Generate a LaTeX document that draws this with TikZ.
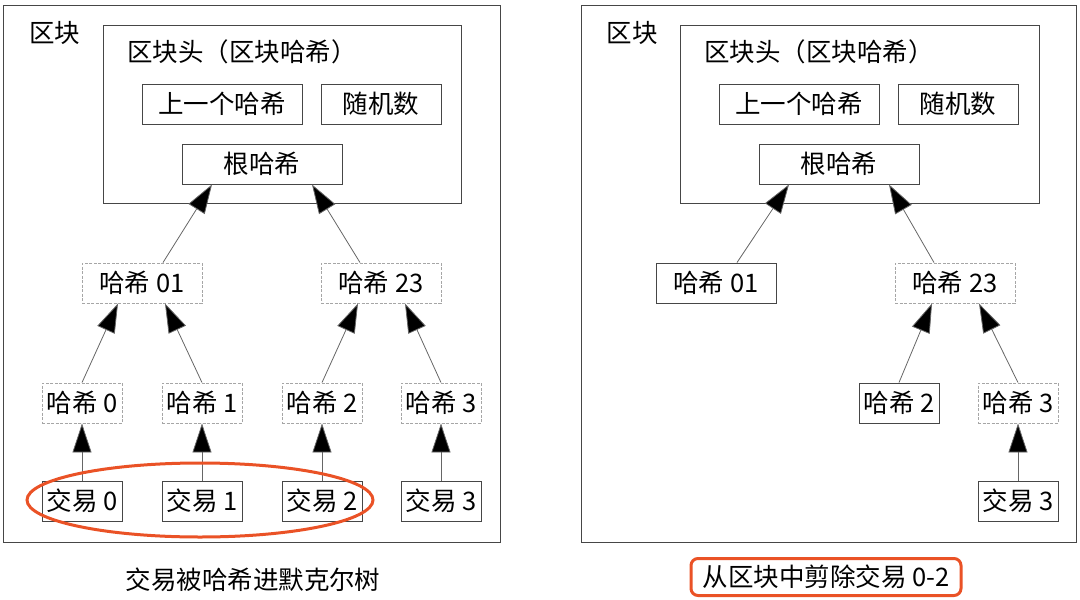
\documentclass[tikz,border=0pt]{standalone}
\usepackage{fontspec}
\setmainfont{Noto Sans CJK SC}
\usetikzlibrary{arrows.meta,shapes.geometric}
\definecolor{mark}{RGB}{234,82,38}
\definecolor{edge}{RGB}{70,70,70}

\begin{document}
\begin{tikzpicture}[x=1pt,y=-1pt,font=\fontsize{25.5}{28}\selectfont,
    >={Triangle[length=29pt,width=19pt,fill=black]}]
  \tikzstyle{frame}=[draw=edge,line width=1pt,rectangle,inner sep=0pt]
  \tikzstyle{solidbox}=[draw=edge,line width=0.9pt,rectangle,inner sep=0pt,minimum height=40pt,fill=white]
  \tikzstyle{dashbox}=[draw=gray!70,line width=0.9pt,dash pattern=on 3pt off 1.5pt,rectangle,inner sep=0pt,minimum height=40pt,fill=white]
  \tikzstyle{link}=[draw=gray!80!black,line width=0.8pt,->]
  \useasboundingbox (0,0) rectangle (1080,600);
  % left block
  \node[frame,minimum width=497pt,minimum height=537pt] (blockL) at (251.5,273.5) {};
  \node (blocklabelL) at (55,33) {区块};
  \node[frame,minimum width=358pt,minimum height=178pt] (headL) at (282,114) {};
  \node (headlabelL) at (242,52) {区块头（区块哈希）};
  \node[solidbox,minimum width=160pt] (prevL) at (222,104) {上一个哈希};
  \node[solidbox,minimum width=120pt] (nonceL) at (381,104) {随机数};
  \node[solidbox,minimum width=160pt] (rootL) at (262,164) {根哈希};
  \node[dashbox,minimum width=120pt] (h01L) at (142,283) {哈希 01};
  \node[dashbox,minimum width=120pt] (h23L) at (381,283) {哈希 23};
  \node[dashbox,minimum width=80pt] (h0L) at (82,403) {哈希 0};
  \node[dashbox,minimum width=80pt] (h1L) at (202,403) {哈希 1};
  \node[dashbox,minimum width=80pt] (h2L) at (322,403) {哈希 2};
  \node[dashbox,minimum width=80pt] (h3L) at (441,403) {哈希 3};
  \node[solidbox,minimum width=80pt] (t0L) at (82,501) {交易 0};
  \node[solidbox,minimum width=80pt] (t1L) at (202,501) {交易 1};
  \node[solidbox,minimum width=80pt] (t2L) at (322,501) {交易 2};
  \node[solidbox,minimum width=80pt] (t3L) at (441,501) {交易 3};
  \draw[link] ([xshift=21pt]h01L.north) -- ([xshift=-50pt]rootL.south);
  \draw[link] ([xshift=-21pt]h23L.north) -- ([xshift=50pt]rootL.south);
  \draw[link] (h0L.north) -- ([xshift=-24pt]h01L.south);
  \draw[link] (h1L.north) -- ([xshift=23pt]h01L.south);
  \draw[link] (h2L.north) -- ([xshift=-23pt]h23L.south);
  \draw[link] (h3L.north) -- ([xshift=24pt]h23L.south);
  \foreach \i in {0,...,3}
    \draw[link] (t\i L.north) -- (h\i L.south);
  \node[draw=mark,line width=3pt,ellipse,minimum width=346pt,minimum height=74pt] (pickL) at (200,500) {};
  \node (captionL) at (253,580) {交易被哈希进默克尔树};
  % right block
  \node[frame,minimum width=495pt,minimum height=537pt] (blockR) at (828.5,273.5) {};
  \node (blocklabelR) at (632,33) {区块};
  \node[frame,minimum width=359pt,minimum height=178pt] (headR) at (859.5,114) {};
  \node (headlabelR) at (819,52) {区块头（区块哈希）};
  \node[solidbox,minimum width=160pt] (prevR) at (799,104) {上一个哈希};
  \node[solidbox,minimum width=120pt] (nonceR) at (958,104) {随机数};
  \node[solidbox,minimum width=160pt] (rootR) at (839,164) {根哈希};
  \node[solidbox,minimum width=120pt] (h01R) at (716,283) {哈希 01};
  \node[dashbox,minimum width=120pt] (h23R) at (955,283) {哈希 23};
  \node[solidbox,minimum width=80pt] (h2R) at (899,403) {哈希 2};
  \node[dashbox,minimum width=80pt] (h3R) at (1018,403) {哈希 3};
  \node[solidbox,minimum width=80pt] (t3R) at (1018,501) {交易 3};
  \draw[link] ([xshift=21pt]h01R.north) -- ([xshift=-50pt]rootR.south);
  \draw[link] ([xshift=-21pt]h23R.north) -- ([xshift=50pt]rootR.south);
  \draw[link] (h2R.north) -- ([xshift=-23pt]h23R.south);
  \draw[link] (h3R.north) -- ([xshift=24pt]h23R.south);
  \draw[link] (t3R.north) -- (h3R.south);
  \node[draw=mark,line width=3pt,rounded corners=7pt,minimum width=270pt,minimum height=37pt,inner sep=0pt] (captionR) at (826,577) {从区块中剪除交易 0-2};
\end{tikzpicture}
\end{document}
